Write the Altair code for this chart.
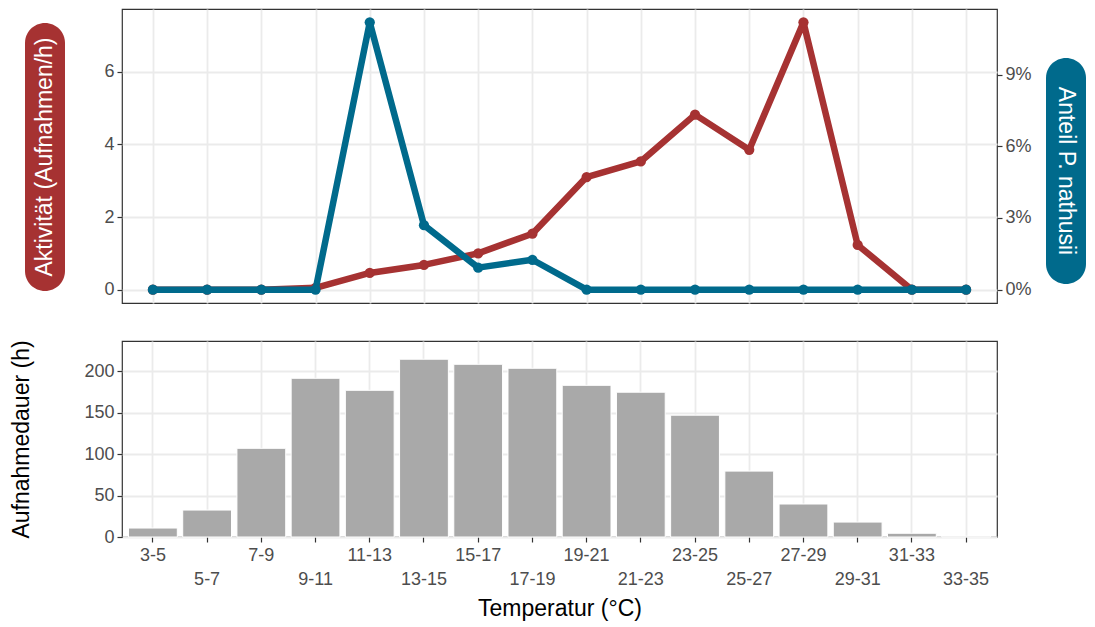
import altair as alt
import pandas as pd

# ---- data ----
temps = ["3-5", "5-7", "7-9", "9-11", "11-13", "13-15", "15-17", "17-19",
         "19-21", "21-23", "23-25", "25-27", "27-29", "29-31", "31-33", "33-35"]
activity = [0, 0, 0, 0.05, 0.46, 0.68, 1.00, 1.54, 3.10, 3.53, 4.82, 3.85, 7.36, 1.23, 0, 0]
share = [0, 0, 0, 0, 0.1119, 0.027, 0.0092, 0.0125, 0, 0, 0, 0, 0, 0, 0, 0]
hours = [10.8, 32.5, 107, 191.5, 177, 214.5, 208.4, 203.6, 183, 174.7, 147, 79.5, 39.8, 18, 4.5, 1]

left_title = "Aktivität (Aufnahmen/h)"
right_title = "Anteil P. nathusii"
bottom_y_title = "Aufnahmedauer (h)"
x_title = "Temperatur (°C)"

RED = "#A63232"
TEAL = "#006A8C"
BAR = "#A9A9A9"
GRID = "#EBEBEB"
DARK = "#333333"
LABEL = "#4D4D4D"
FONT = "Liberation Sans"

W = 875
H_TOP = 294
H_BOT = 196

df = pd.DataFrame({"temp": temps, "activity": activity, "share": share, "hours": hours})

# ---- top panel ----
x_top = alt.X("temp:N", sort=temps,
              scale=alt.Scale(type="point", padding=0.57),
              axis=alt.Axis(title=None, labels=False, ticks=False, domain=False,
                            grid=True, gridColor=GRID, gridWidth=1.8))

red_y = alt.Y("activity:Q",
              scale=alt.Scale(domain=[-0.368, 7.728], nice=False, zero=False),
              axis=alt.Axis(orient="left", values=[0, 2, 4, 6], title=None,
                            grid=True, gridColor=GRID, gridWidth=1.8,
                            domain=False, tickSize=5, tickColor=DARK, tickWidth=1.2,
                            labelPadding=3, labelFontSize=18, labelColor=LABEL))
teal_y = alt.Y("share:Q",
               scale=alt.Scale(domain=[-0.0056, 0.1175], nice=False, zero=False),
               axis=alt.Axis(orient="right", values=[0, 0.03, 0.06, 0.09], format=".0%",
                             title=None, grid=False, domain=False, tickSize=5,
                             tickColor=DARK, tickWidth=1.2, labelPadding=3,
                             labelFontSize=18, labelColor=LABEL))

base = alt.Chart(df)
red = alt.layer(
    base.mark_line(color=RED, strokeWidth=6.5, strokeJoin="round", strokeCap="round").encode(
        x=x_top, y=red_y),
    base.mark_circle(color=RED, size=105, opacity=1).encode(x=x_top, y=red_y),
)
teal = alt.layer(
    base.mark_line(color=TEAL, strokeWidth=6.5, strokeJoin="round", strokeCap="round").encode(
        x=x_top, y=teal_y),
    base.mark_circle(color=TEAL, size=105, opacity=1).encode(x=x_top, y=teal_y),
)

lt = alt.Chart(pd.DataFrame({"label": [left_title]}))
rt = alt.Chart(pd.DataFrame({"label": [right_title]}))
left_pill = lt.mark_rect(color=RED, cornerRadius=20).encode(
    x=alt.value(-97), x2=alt.value(-57), y=alt.value(14), y2=alt.value(282))
left_text = lt.mark_text(color="white", angle=270, fontSize=23, font=FONT,
                         align="center", baseline="middle").encode(
    x=alt.value(-77), y=alt.value(148), text="label:N")
right_pill = rt.mark_rect(color=TEAL, cornerRadius=20).encode(
    x=alt.value(W + 49), x2=alt.value(W + 89), y=alt.value(49), y2=alt.value(275))
right_text = rt.mark_text(color="white", angle=90, fontSize=23, font=FONT,
                          align="center", baseline="middle").encode(
    x=alt.value(W + 69), y=alt.value(162), text="label:N")

top = alt.layer(red, teal, left_pill, left_text, right_pill, right_text).resolve_scale(
    y="independent").properties(width=W, height=H_TOP)

# ---- bottom panel ----
cat_list = "[" + ",".join("'" + t + "'" for t in temps) + "]"
label_expr = f"indexof({cat_list}, datum.value) % 2 == 1 ? ['', datum.label] : [datum.label]"

bars = alt.Chart(df).mark_bar(color=BAR, stroke="white", strokeWidth=1).encode(
    x=alt.X("temp:N", sort=temps,
            scale=alt.Scale(type="band", paddingInner=0.1, paddingOuter=0.12),
            axis=alt.Axis(title=x_title, labelExpr=label_expr, labelAngle=0,
                          labelOverlap=False, labelLineHeight=24, labelPadding=4,
                          labelFontSize=18, labelColor=LABEL, domain=False,
                          tickSize=5, tickColor=DARK, tickWidth=1.2,
                          grid=True, gridColor=GRID, gridWidth=1.8,
                          titleFontSize=23, titleFontWeight="normal", titleColor="black",
                          titleBaseline="middle", titleY=71)),
    y=alt.Y("hours:Q", scale=alt.Scale(domain=[0, 236.5], nice=False),
            axis=alt.Axis(values=[0, 50, 100, 150, 200], title=bottom_y_title,
                          grid=True, gridColor=GRID, gridWidth=1.8, domain=False,
                          tickSize=5, tickColor=DARK, tickWidth=1.2, labelPadding=3,
                          labelFontSize=18, labelColor=LABEL,
                          titleFontSize=23, titleFontWeight="normal", titleColor="black",
                          titleBaseline="middle", titleX=-101, titleAngle=270)),
).properties(width=W, height=H_BOT)

chart = alt.vconcat(top, bars, spacing=35).properties(
    padding={"left": 1, "top": 0, "right": 0, "bottom": 3},
    background="white",
).configure(font=FONT).configure_view(stroke=DARK, strokeWidth=1.2).configure_axis(
    labelFont=FONT, titleFont=FONT)

chart.save("out.html", embed_options={"renderer": "svg", "actions": False})
